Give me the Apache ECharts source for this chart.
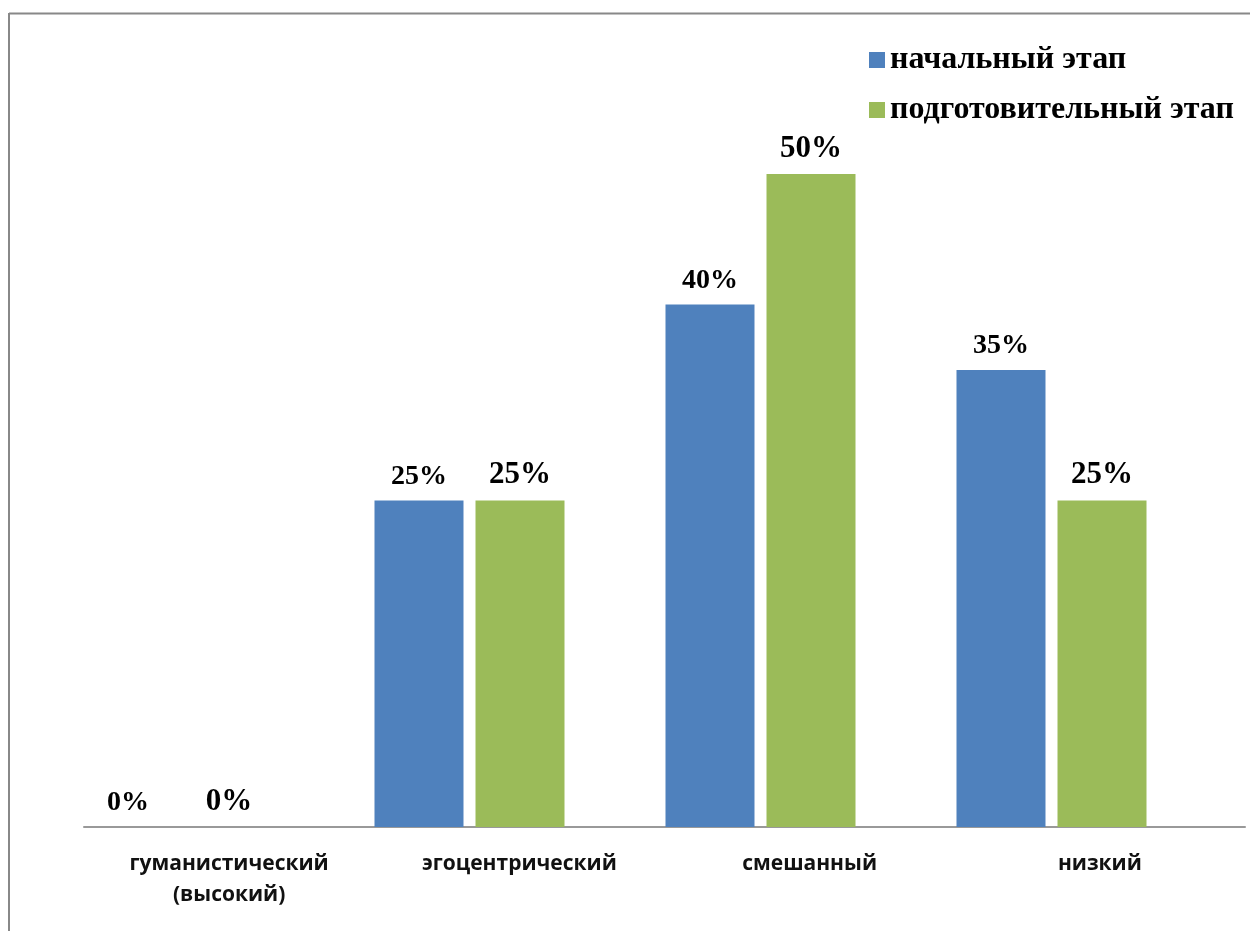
<!DOCTYPE html>
<html>
<head>
<meta charset="utf-8">
<script src="https://cdn.jsdelivr.net/npm/echarts@6/dist/echarts.min.js"></script>
<style>html,body{margin:0;padding:0;background:#fff;}#c{width:1250px;height:931px;}</style>
</head>
<body>
<div id="c"></div>
<script>
const categories = ['гуманистический\n(высокий)', 'эгоцентрический', 'смешанный', 'низкий'];
const seriesNames = ['начальный этап', 'подготовительный этап'];
const initialStage = [0, 25, 40, 35];
const prepStage = [0, 25, 50, 25];

const chart = echarts.init(document.getElementById('c'));
const serif = '"Liberation Serif", "Times New Roman", serif';
const sans = '"Open Sans", "Noto Sans", sans-serif';
chart.setOption({
  animation: false,
  backgroundColor: '#fff',
  graphic: [
    { type: 'line', shape: { x1: 9, y1: 13.5, x2: 1250, y2: 13.5 }, style: { stroke: '#888', lineWidth: 2 } },
    { type: 'line', shape: { x1: 9, y1: 13, x2: 9, y2: 931 }, style: { stroke: '#888', lineWidth: 2 } }
  ],
  legend: {
    orient: 'vertical',
    left: 864,
    top: 39,
    itemWidth: 16,
    itemHeight: 16,
    itemGap: 18,
    icon: 'rect',
    textStyle: { fontFamily: serif, fontWeight: 'bold', fontSize: 32, color: '#000' },
    data: seriesNames
  },
  grid: [
    { left: 33, right: 53, top: 43.4, bottom: 104 },
    { left: 84, right: 5, top: 43.4, bottom: 104 }
  ],
  xAxis: [
    { type: 'category', gridIndex: 0, data: categories, show: false },
    {
      type: 'category', gridIndex: 1, data: categories,
      axisLine: { show: true, lineStyle: { color: '#999', width: 2 } },
      axisTick: { show: false },
      axisLabel: { margin: 22, fontFamily: sans, fontWeight: 'bold', fontSize: 21, color: '#111', lineHeight: 31 }
    }
  ],
  yAxis: [
    { type: 'value', gridIndex: 0, min: 0, max: 60, show: false, splitLine: { show: false } },
    { type: 'value', gridIndex: 1, min: 0, max: 60, show: false, splitLine: { show: false } }
  ],
  series: [
    {
      name: seriesNames[0], type: 'bar', xAxisIndex: 0, yAxisIndex: 0,
      data: initialStage, barWidth: 89, barGap: '13.5%',
      itemStyle: { color: '#4F81BD' },
      label: { show: true, position: 'top', distance: 10, formatter: '{c}%', fontFamily: serif, fontWeight: 'bold', fontSize: 28, color: '#000' }
    },
    {
      name: seriesNames[1], type: 'bar', xAxisIndex: 0, yAxisIndex: 0,
      data: prepStage, barWidth: 89,
      itemStyle: { color: '#9BBB59' },
      label: { show: true, position: 'top', distance: 10, formatter: '{c}%', fontFamily: serif, fontWeight: 'bold', fontSize: 31, color: '#000' }
    }
  ]
});
</script>
</body>
</html>
